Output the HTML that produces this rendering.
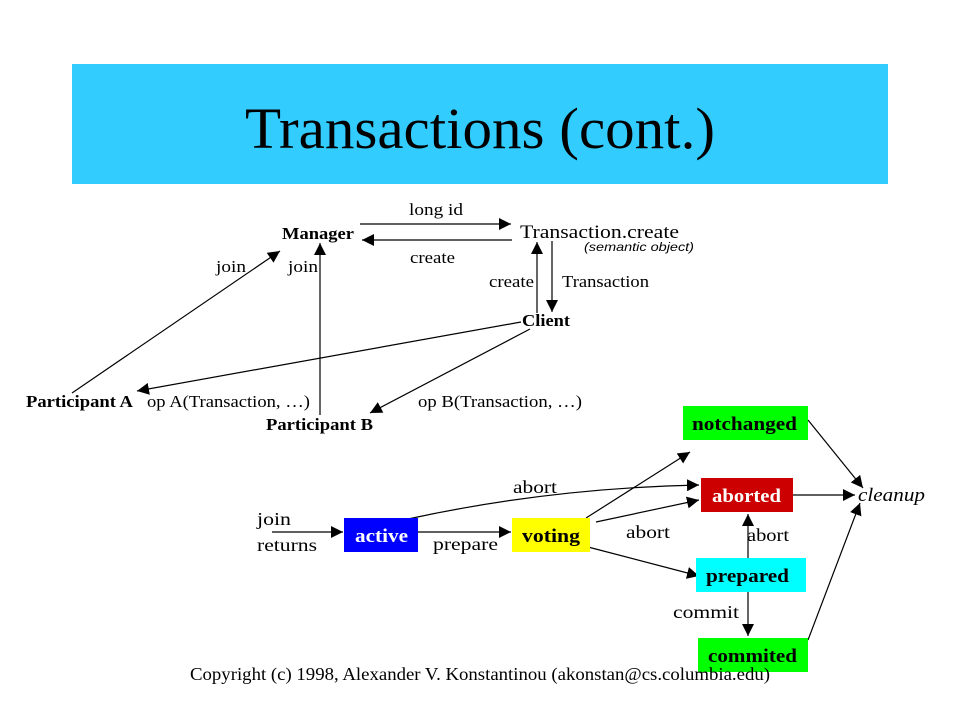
<!DOCTYPE html>
<html><head><style>
body{margin:0;background:#fff;width:959px;height:719px;overflow:hidden}
svg{display:block}
text{font-family:"Liberation Serif",serif;fill:#000}
.b{font-weight:bold}
</style></head><body>
<svg width="959" height="719" viewBox="0 0 959 719">
<defs>
<marker id="s" viewBox="0 0 10 10" refX="10" refY="5" markerWidth="12" markerHeight="12" markerUnits="userSpaceOnUse" orient="auto"><path d="M0,0L10,5L0,10z" fill="#000"/></marker></defs>
<rect x="72" y="64" width="816" height="120" fill="#33ccff"/>
<text x="245" y="148" font-size="58" textLength="470" lengthAdjust="spacingAndGlyphs">Transactions (cont.)</text>
<g stroke="#000" stroke-width="1.2" fill="none" marker-end="url(#s)">
<line x1="360" y1="224" x2="511" y2="224"/>
<line x1="512" y1="240" x2="362" y2="240"/>
<line x1="537" y1="313" x2="537" y2="242"/>
<line x1="552" y1="241" x2="552" y2="312"/>
<line x1="72" y1="393" x2="280" y2="251"/>
<line x1="320" y1="415" x2="320" y2="243"/>
<line x1="521" y1="322" x2="137" y2="391"/>
<line x1="530" y1="329" x2="370" y2="413"/>
<line x1="272" y1="532" x2="343" y2="532"/>
<line x1="418" y1="532" x2="511" y2="532"/>
<path d="M408,519 Q550,488 699,485"/>
<line x1="586" y1="518" x2="690" y2="452"/>
<line x1="596" y1="522" x2="699" y2="500"/>
<line x1="588" y1="547" x2="699" y2="576"/>
<line x1="793" y1="495" x2="855" y2="495"/>
<line x1="808" y1="420" x2="863" y2="488"/>
<line x1="808" y1="640" x2="860" y2="503"/>
<line x1="748" y1="558" x2="748" y2="514"/>
<line x1="748" y1="592" x2="748" y2="636"/>
</g>
<g font-size="17">
<text x="282" y="239" class="b" textLength="72" lengthAdjust="spacingAndGlyphs">Manager</text>
<text x="409" y="215" textLength="54" lengthAdjust="spacingAndGlyphs">long id</text>
<text x="410" y="263" textLength="45" lengthAdjust="spacingAndGlyphs">create</text>
<text x="520" y="238" font-size="19" textLength="159" lengthAdjust="spacingAndGlyphs">Transaction.create</text>
<text x="584" y="251" font-size="12" style="font-family:'Liberation Sans',sans-serif;font-style:italic" textLength="110" lengthAdjust="spacingAndGlyphs">(semantic object)</text>
<text x="489" y="287" textLength="45" lengthAdjust="spacingAndGlyphs">create</text>
<text x="562" y="287" textLength="87" lengthAdjust="spacingAndGlyphs">Transaction</text>
<text x="522" y="326" class="b" textLength="48" lengthAdjust="spacingAndGlyphs">Client</text>
<text x="216" y="272" textLength="30" lengthAdjust="spacingAndGlyphs">join</text>
<text x="288" y="272" textLength="30" lengthAdjust="spacingAndGlyphs">join</text>
<text x="26" y="407" class="b" textLength="107" lengthAdjust="spacingAndGlyphs">Participant A</text>
<text x="147" y="407" textLength="163" lengthAdjust="spacingAndGlyphs">op A(Transaction, …)</text>
<text x="418" y="407" textLength="164" lengthAdjust="spacingAndGlyphs">op B(Transaction, …)</text>
<text x="266" y="430" class="b" textLength="107" lengthAdjust="spacingAndGlyphs">Participant B</text>
<text x="257" y="525" font-size="18" textLength="34" lengthAdjust="spacingAndGlyphs">join</text>
<text x="257" y="551" font-size="18" textLength="60" lengthAdjust="spacingAndGlyphs">returns</text>
<text x="433" y="550" font-size="18" textLength="65" lengthAdjust="spacingAndGlyphs">prepare</text>
<text x="513" y="493" font-size="18" textLength="44" lengthAdjust="spacingAndGlyphs">abort</text>
<text x="626" y="538" font-size="18" textLength="44" lengthAdjust="spacingAndGlyphs">abort</text>
<text x="747" y="541" font-size="18" textLength="42" lengthAdjust="spacingAndGlyphs">abort</text>
<text x="673" y="618" font-size="18" textLength="66" lengthAdjust="spacingAndGlyphs">commit</text>
<text x="858" y="501" font-size="19" font-style="italic" textLength="67" lengthAdjust="spacingAndGlyphs">cleanup</text>
</g>
<rect x="683" y="406" width="125" height="34" fill="#00ff00"/>
<rect x="701" y="478" width="92" height="34" fill="#cc0000"/>
<rect x="344" y="518" width="74" height="34" fill="#0000ff"/>
<rect x="512" y="518" width="78" height="34" fill="#ffff00"/>
<rect x="696" y="558" width="110" height="34" fill="#00ffff"/>
<rect x="698" y="638" width="110" height="34" fill="#00ff00"/>
<g font-size="19">
<text x="692" y="430" class="b" textLength="105" lengthAdjust="spacingAndGlyphs">notchanged</text>
<text x="712" y="502" class="b" style="fill:#fff" textLength="69" lengthAdjust="spacingAndGlyphs">aborted</text>
<text x="355" y="542" class="b" style="fill:#fff" textLength="53" lengthAdjust="spacingAndGlyphs">active</text>
<text x="522" y="542" class="b" textLength="58" lengthAdjust="spacingAndGlyphs">voting</text>
<text x="706" y="582" class="b" textLength="83" lengthAdjust="spacingAndGlyphs">prepared</text>
<text x="708" y="662" class="b" textLength="89" lengthAdjust="spacingAndGlyphs">commited</text>
</g>
<text x="190" y="680" font-size="18" textLength="580" lengthAdjust="spacingAndGlyphs">Copyright (c) 1998, Alexander V. Konstantinou (akonstan@cs.columbia.edu)</text>
</svg>
</body></html>
